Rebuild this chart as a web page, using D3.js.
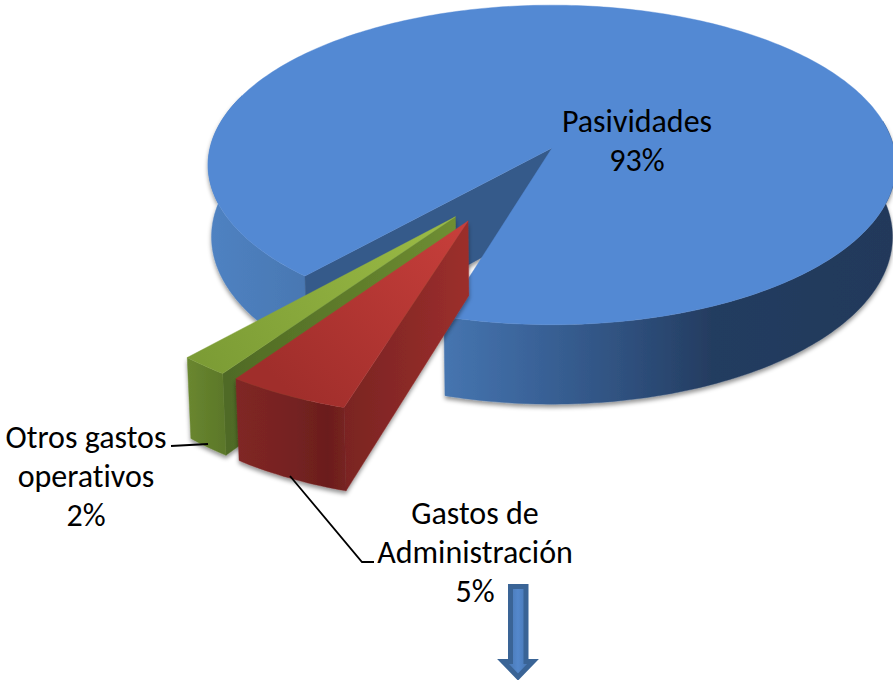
<!DOCTYPE html>
<html><head><meta charset="utf-8">
<style>html,body{margin:0;padding:0;background:#fff;overflow:hidden}svg{display:block}text{font-family:Carlito,Lato,sans-serif;fill:#000;font-variant-ligatures:none}</style>
<script src="https://cdnjs.cloudflare.com/ajax/libs/d3/7.8.5/d3.min.js"></script>
</head><body><svg id="c" width="893" height="680"></svg>
<script>
const categories = ["Gastos de Administración","Otros gastos operativos","Pasividades"];
const shares = [5,2,93];
const labelLines = [["Gastos de","Administración","5%"],["Otros gastos","operativos","2%"],["Pasividades","93%"]];

// 3D pie set-up
const W=893,H=680,cx=552,cy=148,rx=342,a=158,k=0.106,depth=71,shrink=0.99;
const rad=d=>d*Math.PI/180;
const offsets=[[-0.234,0.44],[-0.27,0.416],[0,0]];   // explosion of each slice on the pie plane
const labelAt=[[475,524],[86,448],[637,132]];
const lh=39;

const svg=d3.select("#c");
const defs=svg.append("defs");
const f=defs.append("filter").attr("id","sh").attr("x","-10%").attr("y","-10%").attr("width","120%").attr("height","125%");
f.append("feDropShadow").attr("dx",0).attr("dy",3).attr("stdDeviation",2.2).attr("flood-color","#000").attr("flood-opacity",.42);

function grad(id,x1,y1,x2,y2,stops){
  const g=defs.append("linearGradient").attr("id",id).attr("gradientUnits","userSpaceOnUse")
    .attr("x1",x1).attr("y1",y1).attr("x2",x2).attr("y2",y2);
  stops.forEach(s=>g.append("stop").attr("offset",s[0]).attr("stop-color",s[1]));
  return `url(#${id})`;
}
function P(u,v,low){
  const p=1/(1-k*v);
  return low?[cx+rx*u*p*shrink, cy+a*v*p+depth*p]:[cx+rx*u*p, cy+a*v*p];
}
const pie=d3.pie().sort(null).startAngle(rad(196.5)).endAngle(rad(196.5+360)).value(d=>d);
const arcs=pie(shares);
// d3 angle (0 = up, clockwise) to pie plane coordinates
const pt=(ang,o,r=1,low=false)=>P(o[0]+r*Math.sin(ang),o[1]-r*Math.cos(ang),low);
const sweep=(a0,a1,o,low)=>{const n=Math.max(2,Math.ceil(Math.abs(a1-a0)/rad(1)));
  return d3.range(n+1).map(i=>pt(a0+(a1-a0)*i/n,o,1,low));};
const line=d3.line();
const poly=(pts,fill,g)=>(g||svg).append("path").attr("d",line(pts)+"Z").attr("fill",fill).attr("stroke",fill).attr("stroke-width",.4);

const [red,green,blue]=arcs;
const [oR,oG,oB]=offsets;

// ---- Blue slice
const gB=svg.append("g");
const wallsB=gB.append("g").attr("filter","url(#sh)");
const leftWall=grad("bl",208,0,320,0,[[0,"#4f82c2"],[1,"#4876b0"]]);
const frontWall=grad("bf",443,0,893,0,[[0,"#4675b0"],[.2,"#3a6399"],[.42,"#2e4f7c"],[.6,"#243c60"],[1,"#22395a"]]);
// cut face seen through the gap
const cutStart=blue.startAngle;
const apexT=P(oB[0],oB[1]),apexL=P(oB[0],oB[1],true);
const wallPath=(a0,a1,o)=>sweep(a0,a1,o,false).concat(sweep(a0,a1,o,true).reverse());
poly(wallPath(cutStart,rad(290),oB),leftWall,wallsB);
poly([apexT,pt(cutStart,oB),pt(cutStart,oB,1,true),apexL],"#355a8a",wallsB);
poly(wallPath(rad(80),blue.endAngle-rad(360),oB),frontWall,wallsB);
poly([apexT].concat(sweep(cutStart,blue.endAngle,oB,false)),"#5389d3",gB);

// ---- Green slice
const gG=svg.append("g");
const gw=gG.append("g").attr("filter","url(#sh)");
const gc0=pt(green.startAngle,oG),gc1=pt(green.endAngle,oG),gA=P(oG[0],oG[1]);
poly([gA,gc0,pt(green.startAngle,oG,1,true),P(oG[0],oG[1],true)],grad("gs",gc0[0],0,gA[0],0,[[0,"#4f6a25"],[.55,"#5f7c2b"],[1,"#6f8e32"]]),gw);
poly(wallPath(green.startAngle,green.endAngle,oG),grad("gf",gc1[0],0,gc0[0],0,[[0,"#6a8730"],[1,"#5c7829"]]),gw);
poly([gA].concat(sweep(green.startAngle,green.endAngle,oG,false)),grad("gt",gA[0],gA[1],(gc0[0]+gc1[0])/2,(gc0[1]+gc1[1])/2,[[0,"#9cbc46"],[1,"#7c9c35"]]),gG);

// ---- Red slice
const gR=svg.append("g");
const rw=gR.append("g").attr("filter","url(#sh)");
const rc0=pt(red.startAngle,oR),rc1=pt(red.endAngle,oR),rA=P(oR[0],oR[1]);
poly([rA,rc0,pt(red.startAngle,oR,1,true),P(oR[0],oR[1],true)],grad("rs",rc0[0],0,rA[0],0,[[0,"#7a2422"],[.5,"#8a2927"],[1,"#9c2f2c"]]),rw);
poly(wallPath(red.startAngle,red.endAngle,oR),grad("rf",rc1[0],0,rc0[0],0,[[0,"#802625"],[.45,"#772322"],[.85,"#6b1e1d"],[1,"#752120"]]),rw);
poly([rA].concat(sweep(red.startAngle,red.endAngle,oR,false)),grad("rt",rA[0],rA[1],(rc0[0]+rc1[0])/2,(rc0[1]+rc1[1])/2,[[0,"#c83f3b"],[1,"#a02e2b"]]),gR);

// ---- Leader lines
const leader=d3.line();
svg.append("path").attr("d",leader([[171,446],[208,444]])).attr("fill","none").attr("stroke","#000").attr("stroke-width",1.8);
svg.append("path").attr("d",leader([[290,476],[362,562],[374,562]])).attr("fill","none").attr("stroke","#000").attr("stroke-width",1.8);

// ---- Labels
labelLines.forEach((ls,i)=>{
  const t=svg.append("text").attr("text-anchor","middle").attr("font-size",32);
  ls.forEach((s,j)=>t.append("tspan").attr("x",labelAt[i][0]).attr("y",labelAt[i][1]+j*lh).text(s));
});

// ---- Arrow
svg.append("path").attr("d","M510.5 586.5H526V661.5H533L518 677L503 661.5H510.5Z")
  .attr("fill",grad("ar",510,0,526,0,[[0,"#4a7ab8"],[.5,"#5488cc"],[1,"#4a7ab8"]])).attr("stroke","#3a6496").attr("stroke-width",5).attr("stroke-linejoin","miter");
</script></body></html>
